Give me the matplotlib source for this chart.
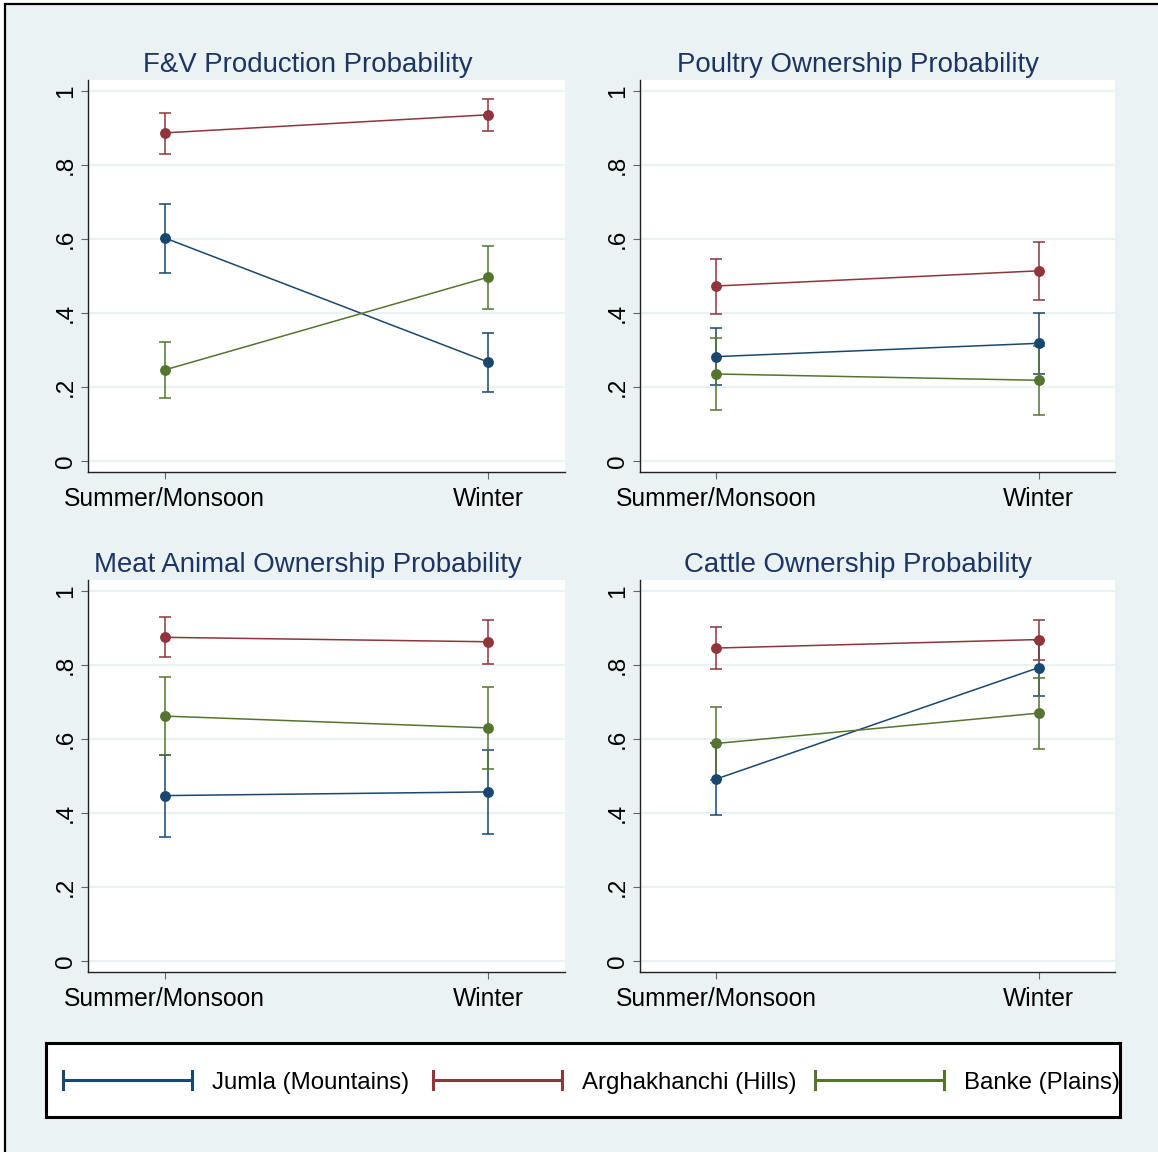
import numpy as np
import matplotlib
matplotlib.use("Agg")
import matplotlib.pyplot as plt
from matplotlib.patches import Rectangle

plt.rcParams['font.family'] = ['Liberation Sans', 'DejaVu Sans']

# Predicted probabilities with 95% CIs, by district and season
seasons = ["Summer/Monsoon", "Winter"]
districts = ["Jumla (Mountains)", "Arghakhanchi (Hills)", "Banke (Plains)"]
titles = ["F&V Production Probability", "Poultry Ownership Probability",
          "Meat Animal Ownership Probability", "Cattle Ownership Probability"]

fv_est = [[0.603, 0.267], [0.887, 0.936], [0.246, 0.497]]
fv_lo = [[0.509, 0.187], [0.831, 0.891], [0.169, 0.412]]
fv_hi = [[0.695, 0.347], [0.940, 0.978], [0.322, 0.582]]

poultry_est = [[0.282, 0.318], [0.473, 0.514], [0.235, 0.218]]
poultry_lo = [[0.204, 0.236], [0.398, 0.436], [0.138, 0.125]]
poultry_hi = [[0.359, 0.400], [0.547, 0.592], [0.332, 0.311]]

meat_est = [[0.447, 0.457], [0.875, 0.863], [0.662, 0.630]]
meat_lo = [[0.334, 0.343], [0.822, 0.803], [0.556, 0.519]]
meat_hi = [[0.558, 0.571], [0.929, 0.921], [0.768, 0.741]]

cattle_est = [[0.492, 0.793], [0.846, 0.869], [0.588, 0.670]]
cattle_lo = [[0.395, 0.717], [0.788, 0.815], [0.490, 0.574]]
cattle_hi = [[0.589, 0.869], [0.903, 0.923], [0.686, 0.765]]

panels = [(fv_est, fv_lo, fv_hi), (poultry_est, poultry_lo, poultry_hi),
          (meat_est, meat_lo, meat_hi), (cattle_est, cattle_lo, cattle_hi)]

colors = ["#1a476f", "#90353b", "#55752f"]
bg = "#eaf2f3"
W, H = 1158, 1152

fig = plt.figure(figsize=(W / 100, H / 100), dpi=100, facecolor="white")

# graph region background and its frame
fig.patches.append(Rectangle((5 / W, -0.02), 1.05, 1 - 4 / H + 0.02,
                             transform=fig.transFigure, facecolor=bg,
                             edgecolor="black", linewidth=1.6, zorder=-5))


def px_axes(x0, y0, x1, y1):
    return fig.add_axes([x0 / W, 1 - y1 / H, (x1 - x0) / W, (y1 - y0) / H])


boxes = [(88, 80, 565, 472), (640, 80, 1115, 472),
         (88, 580, 565, 972), (640, 580, 1115, 972)]
# titles sit centred over each subgraph, y-axis labels included
title_pos = [(308, 65), (858, 65), (308, 565), (858, 565)]
xs = np.arange(len(seasons))

for box, title, tpos, (est, lo, hi) in zip(boxes, titles, title_pos, panels):
    ax = px_axes(*box)
    ax.set_facecolor("white")
    for s in ["top", "right"]:
        ax.spines[s].set_visible(False)
    for s in ["left", "bottom"]:
        ax.spines[s].set_color("#222222")
        ax.spines[s].set_linewidth(1.0)
    ax.set_yticks(np.arange(0, 1.01, 0.2))
    ax.set_yticklabels(["0", ".2", ".4", ".6", ".8", "1"], rotation=90,
                       va="center", fontsize=17.5)
    ax.set_xticks(xs)
    ax.set_xticklabels(seasons, fontsize=17.7)
    ax.tick_params(axis="y", length=5, pad=3, color="#666666")
    ax.tick_params(axis="x", length=5, pad=6, color="#666666")
    ax.grid(axis="y", color=bg, linewidth=1.6)
    ax.set_axisbelow(True)
    for k in range(len(districts)):
        e = np.array(est[k])
        err = [e - np.array(lo[k]), np.array(hi[k]) - e]
        ax.errorbar(xs, e, yerr=err, color=colors[k], linewidth=1.1,
                    elinewidth=1.1, capsize=4.3, capthick=1.1,
                    marker="o", markersize=6.8, zorder=3)
    ax.set_xlim(-0.237, 1.237)
    ax.set_ylim(-0.03, 1.03)
    fig.text(tpos[0] / W, 1 - tpos[1] / H, title, fontsize=19.9,
             color="#1e3564", ha="center", va="center")

# legend box with capped-line keys
lg = px_axes(46, 1043, 1120, 1117)
lg.set_facecolor("white")
lg.set_xlim(46, 1120)
lg.set_ylim(0, 1)
lg.set_xticks([])
lg.set_yticks([])
for s in lg.spines.values():
    s.set_color("black")
    s.set_linewidth(2.2)
key_x = [63, 433, 815]
for k, name in enumerate(districts):
    x0, x1 = key_x[k], key_x[k] + 129
    lg.plot([x0, x1], [0.5, 0.5], color=colors[k], linewidth=2.2)
    lg.plot([x0, x0], [0.38, 0.62], color=colors[k], linewidth=2.2)
    lg.plot([x1, x1], [0.38, 0.62], color=colors[k], linewidth=2.2)
    lg.text(x1 + 20, 0.46, name, fontsize=17.3, va="center", ha="left",
            clip_on=True)

fig.savefig("out.png", dpi=100, facecolor="white")
